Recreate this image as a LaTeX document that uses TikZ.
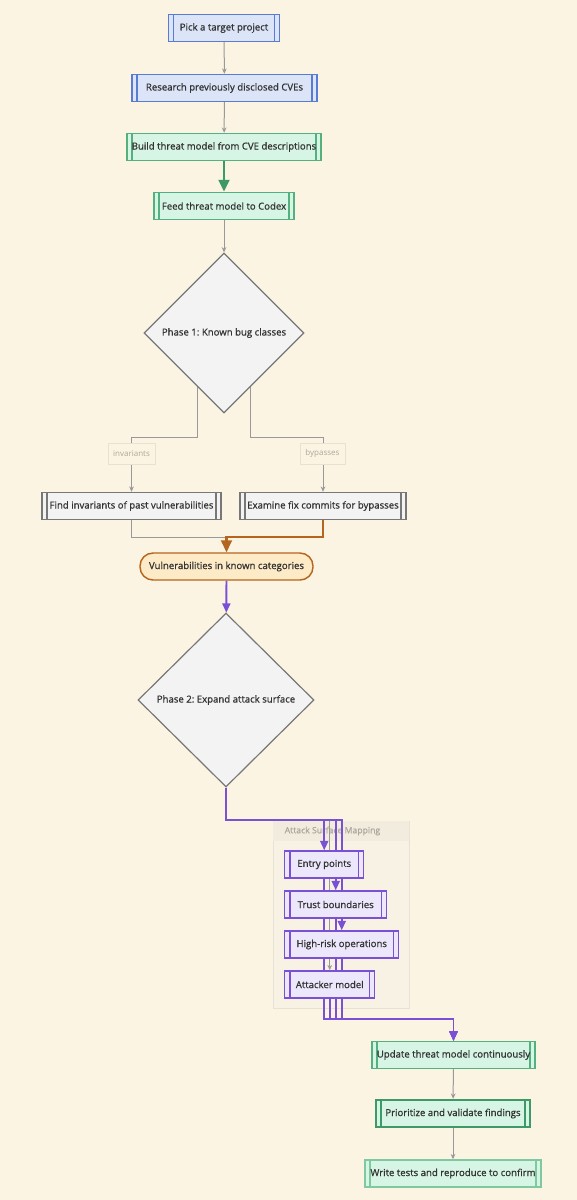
\documentclass[tikz,border=0pt]{standalone}
\usepackage{fontspec}
\setmainfont{Open Sans}
\newfontfamily\boxfont{Open Sans}[FakeBold=0.9]
\usetikzlibrary{arrows.meta,calc,shapes.geometric,shapes.misc}
\frenchspacing

\definecolor{paper}{HTML}{FBF4E3}
\definecolor{ink}{HTML}{333333}
\definecolor{blueF}{HTML}{DCE5F8}
\definecolor{blueD}{HTML}{5A7BD4}
\definecolor{greenF}{HTML}{D6F5E4}
\definecolor{greenD}{HTML}{55B07F}
\definecolor{greenDk}{HTML}{3D9A68}
\definecolor{greenLt}{HTML}{80C9A0}
\definecolor{purpF}{HTML}{ECE7FA}
\definecolor{purpD}{HTML}{7A50D4}
\definecolor{ovalF}{HTML}{FDEBC7}
\definecolor{ovalD}{HTML}{B5651D}
\definecolor{diaF}{HTML}{F3F3F3}
\definecolor{diaD}{HTML}{777777}
\definecolor{edgeG}{HTML}{999999}
\definecolor{clusF}{HTML}{F8F2E5}
\definecolor{clusH}{HTML}{F2ECDE}
\definecolor{clusD}{HTML}{E8E2D4}
\definecolor{faint}{HTML}{ADA79D}

\newcommand{\pxw}[1]{#1*0.75pt}

\pgfdeclarelayer{back}
\pgfdeclarelayer{edges}
\pgfsetlayers{back,edges,main}

\tikzset{
  sub/.style 2 args={draw=#2, fill=#1, line width=1.1pt, minimum height=\pxw{27},
    inner xsep=0pt, text=ink, font=\boxfont\fontsize{7.2}{8}\selectfont,
    path picture={\draw[#2, line width=1.1pt]
      ([xshift=3.8pt]path picture bounding box.north west) -- ([xshift=3.8pt]path picture bounding box.south west)
      ([xshift=-3.8pt]path picture bounding box.north east) -- ([xshift=-3.8pt]path picture bounding box.south east);}},
  phase/.style={diamond, draw=diaD, fill=diaF, line width=0.9pt, inner sep=0pt,
    text=ink, font=\boxfont\fontsize{7.2}{8}\selectfont},
  edgelbl/.style={draw=clusD, fill=paper, text=faint, font=\fontsize{6}{7}\selectfont,
    minimum height=\pxw{21}, inner xsep=0pt},
  plain/.style={draw=edgeG, line width=0.75pt, -{Stealth[length=4pt,width=3.5pt]}},
  thickgreen/.style={draw=greenDk, line width=2.2pt, -{Triangle[length=9pt,width=8pt]}},
  thickbrown/.style={draw=ovalD, line width=2.2pt, -{Triangle[length=9pt,width=8pt]}},
  purple/.style={draw=purpD, line width=1.4pt, -{Triangle[length=7pt,width=6pt]}},
}

\begin{document}
\begin{tikzpicture}[x=0.75pt, y=-0.75pt]
%%%%% START %%%%%
\begin{pgfonlayer}{back}
  \fill[paper] (0,0) rectangle (577,1200);
  \draw[clusD, fill=clusF, line width=0.6pt] (273,821) rectangle (409,1008);
  \fill[clusH] (273.4,821.4) rectangle (408.6,841);
  \node[anchor=west, text=faint, font=\boxfont\fontsize{6.5}{7}\selectfont] (clabel) at (280,831) {Attack Surface Mapping};
\end{pgfonlayer}
\path[use as bounding box] (0,0) rectangle (577,1200);

% top of the flow
\node[sub={blueF}{blueD}, minimum width=\pxw{111}] (pick) at (224,28) {Pick a target project};
\node[sub={blueF}{blueD}, minimum width=\pxw{185}] (research) at (224.5,88) {Research previously disclosed CVEs};
\node[sub={greenF}{greenD}, minimum width=\pxw{194}] (build) at (224,147) {Build threat model from CVE descriptions};
\node[sub={greenF}{greenD}, minimum width=\pxw{140}] (feed) at (224,206) {Feed threat model to Codex};

% phase 1
\node[phase, minimum width=\pxw{160}, minimum height=\pxw{160}] (phaseone) at (224,333) {Phase 1: Known bug classes};
\node[sub={diaF}{diaD}, minimum width=\pxw{179}] (find) at (131.5,506) {Find invariants of past vulnerabilities};
\node[sub={diaF}{diaD}, minimum width=\pxw{166}] (examine) at (323,506) {Examine fix commits for bypasses};
\node[draw=ovalD, fill=ovalF, line width=1.1pt, rounded corners=\pxw{13}, minimum width=\pxw{173},
  minimum height=\pxw{27}, text=ink, font=\boxfont\fontsize{7.2}{8}\selectfont] (known) at (226.5,566.5) {Vulnerabilities in known categories};

% phase 2
\node[phase, minimum width=\pxw{176}, minimum height=\pxw{174}] (phasetwo) at (226,700) {Phase 2: Expand attack surface};
\node[sub={purpF}{purpD}, minimum width=\pxw{79}, anchor=west] (entry) at (284,864.5) {Entry points};
\node[sub={purpF}{purpD}, minimum width=\pxw{102}, anchor=west] (trust) at (284,904.5) {Trust boundaries};
\node[sub={purpF}{purpD}, minimum width=\pxw{114}, anchor=west] (highrisk) at (284,944.5) {High-risk operations};
\node[sub={purpF}{purpD}, minimum width=\pxw{90}, anchor=west] (attacker) at (284,984.5) {Attacker model};

% bottom
\node[sub={greenF}{greenD}, minimum width=\pxw{163}] (update) at (453.5,1055) {Update threat model continuously};
\node[sub={greenF}{greenDk}, line width=1.8pt, minimum width=\pxw{154}] (prior) at (453,1113.5) {Prioritize and validate findings};
\node[sub={greenF}{greenLt}, minimum width=\pxw{176}] (write) at (453,1173.5) {Write tests and reproduce to confirm};

% bends
\coordinate (splitY) at (0,437);
\coordinate (mergeY) at (0,537);
\coordinate (inY) at (0,820);
\coordinate (outY) at (0,1019);
\coordinate (p1l) at ($(phaseone.south)!0.325!(phaseone.west)$);
\coordinate (p1r) at ($(phaseone.south)!0.325!(phaseone.east)$);

\begin{pgfonlayer}{edges}
  \draw[plain] (pick) -- (research);
  \draw[plain] (research) -- (build);
  \draw[thickgreen] (build) -- (feed);
  \draw[plain] (feed) -- (phaseone);
  \draw[plain] (p1l) -- (p1l |- splitY) -| (find.north);
  \draw[plain] (p1r) -- (p1r |- splitY) -| (examine.north);
  \draw[plain] (find.south) -- (find.south |- mergeY) -| (known.north);
  \draw[thickbrown] (examine.south) -- (examine.south |- mergeY) -| (known.north);
  \draw[purple] (known) -- (phasetwo);
  \draw[plain] (phasetwo.south) -- (phasetwo.south |- inY) -| (attacker.north);
  \draw[purple] (phasetwo.south) -- (phasetwo.south |- inY) -| (highrisk.north);
  \draw[purple] (phasetwo.south) -- (phasetwo.south |- inY) -| (trust.north);
  \draw[purple] (phasetwo.south) -- (phasetwo.south |- inY) -| (entry.north);
  \foreach \n in {entry,trust,highrisk,attacker}
    \draw[purple] (\n.south) -- (\n.south |- outY) -| (update.north);
  \draw[plain] (update) -- (prior);
  \draw[plain] (prior) -- (write);
\end{pgfonlayer}

% edge labels
\node[edgelbl, minimum width=\pxw{47}] (lblinv) at (131.5,453.5) {invariants};
\node[edgelbl, minimum width=\pxw{45}] (lblbyp) at (322.5,453.5) {bypasses};
%%%%% END %%%%%
\end{tikzpicture}
\end{document}
